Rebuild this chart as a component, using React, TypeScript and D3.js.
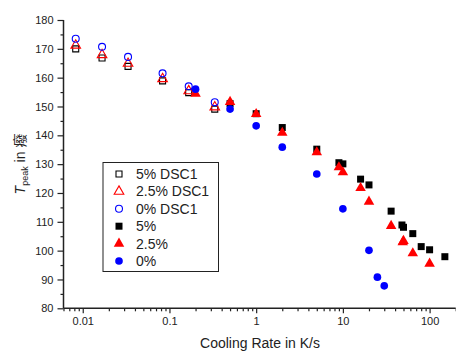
import { useEffect, useRef } from 'react';
import * as d3 from 'd3';

// [cooling rate in K/s, T peak]
const dsc5: [number, number][] = [
  [0.0083, 170.0], [0.0167, 166.8], [0.0333, 163.9], [0.0833, 158.9], [0.1667, 154.8], [0.333, 149.1],
];
const dsc25: [number, number][] = [
  [0.0083, 171.2], [0.0167, 167.9], [0.0333, 164.9], [0.0833, 159.6], [0.1667, 155.4], [0.333, 149.8],
];
const dsc0: [number, number][] = [
  [0.0083, 173.5], [0.0167, 170.7], [0.0333, 167.2], [0.0833, 161.5], [0.1667, 157.0], [0.333, 151.5],
];
const fast5: [number, number][] = [
  [0.5, 151.0], [1, 147.5], [2, 142.7], [5, 135.2], [9, 130.5], [10, 130.1], [16, 124.8], [20, 122.8],
  [36, 113.7], [48, 108.9], [50, 108.1], [64, 105.9], [80, 101.4], [100, 100.3], [150, 97.9],
];
const fast25: [number, number][] = [
  [0.2, 154.4], [0.5, 151.6], [1, 147.4], [2, 140.9], [5, 134.1], [9, 128.9], [10, 127.2], [16, 121.7],
  [20, 117.0], [36, 108.6], [49, 102.9], [50, 103.4], [64, 99.1], [100, 95.5],
];
const fast0: [number, number][] = [
  [0.2, 156.0], [0.5, 149.1], [1, 143.3], [2, 135.9], [5, 126.6], [10, 114.5], [20, 100.1], [25, 90.8], [30, 87.8],
];

const legendLabels = ['5% DSC1', '2.5% DSC1', '0% DSC1', '5%', '2.5%', '0%'];
const xMajor = [0.01, 0.1, 1, 10, 100];
const yMajor = [80, 90, 100, 110, 120, 130, 140, 150, 160, 170, 180];

export default function App() {
  const svgRef = useRef<SVGSVGElement>(null);

  useEffect(() => {
    if (!svgRef.current) return;
    const width = 456;
    const height = 352;
    const font = 'Arial, "Liberation Sans", "Noto Sans CJK SC", sans-serif';
    const axisColor = '#222';

    const svg = d3.select(svgRef.current).attr('width', width).attr('height', height);
    svg.selectAll('*').remove();

    const x = d3.scaleLog().domain([0.006, 200]).range([63.5, 455.7]);
    const y = d3.scaleLinear().domain([80, 180]).range([308.3, 20]);

    const xMinor: number[] = [];
    for (let e = -3; e <= 2; e++) {
      for (let m = 2; m <= 9; m++) {
        const v = m * Math.pow(10, e);
        if (v >= 0.006 && v <= 200) xMinor.push(v);
      }
    }
    const yMinor = d3.range(85, 180, 10);

    // x axis
    const gx = svg.append('g').attr('transform', `translate(0,${y(80)})`);
    gx.append('g')
      .call(d3.axisBottom(x).tickValues(xMinor).tickSize(3).tickFormat(() => ''))
      .call((g) => g.select('.domain').remove());
    gx.append('g')
      .call(d3.axisBottom(x).tickValues(xMajor).tickSize(5).tickPadding(4).tickFormat((d) => String(d)))
      .call((g) => g.select('.domain').remove());
    gx.append('line')
      .attr('x1', x(0.006))
      .attr('x2', x(200))
      .attr('stroke', axisColor)
      .attr('stroke-width', 1.5);

    // y axis
    const gy = svg.append('g').attr('transform', `translate(${x(0.006)},0)`);
    gy.append('g')
      .call(d3.axisLeft(y).tickValues(yMinor).tickSize(3).tickFormat(() => ''))
      .call((g) => g.select('.domain').remove());
    gy.append('g')
      .call(d3.axisLeft(y).tickValues(yMajor).tickSize(6).tickPadding(4).tickFormat((d) => String(d)))
      .call((g) => g.select('.domain').remove());
    gy.append('line')
      .attr('y1', y(80))
      .attr('y2', y(180))
      .attr('stroke', axisColor)
      .attr('stroke-width', 1.5);

    svg.selectAll('.tick line').attr('stroke', axisColor).attr('stroke-width', 1.2);
    svg.selectAll('.tick text')
      .attr('fill', '#222')
      .style('font-family', font)
      .style('font-size', '11px');

    // axis titles
    svg.append('text')
      .attr('x', 260)
      .attr('y', 348)
      .attr('text-anchor', 'middle')
      .attr('fill', '#222')
      .style('font-family', font)
      .style('font-size', '14px')
      .text('Cooling Rate in K/s');

    const yt = svg.append('text')
      .attr('transform', 'translate(25,164) rotate(-90)')
      .attr('text-anchor', 'middle')
      .attr('fill', '#222')
      .style('font-family', font)
      .style('font-size', '14px');
    yt.append('tspan').style('font-style', 'italic').text('T');
    yt.append('tspan').attr('dy', 3).style('font-size', '9px').text('peak');
    yt.append('tspan').attr('dy', -3).text(' in 癈');

    // markers
    const series = [
      { data: dsc5, shape: d3.symbolSquare, size: 36, color: '#000', filled: false },
      { data: dsc25, shape: d3.symbolTriangle, size: 40, color: '#ff0000', filled: false },
      { data: dsc0, shape: d3.symbolCircle, size: 38, color: '#0000ff', filled: false },
      { data: fast5, shape: d3.symbolSquare, size: 49, color: '#000', filled: true },
      { data: fast25, shape: d3.symbolTriangle, size: 48, color: '#ff0000', filled: true },
      { data: fast0, shape: d3.symbolCircle, size: 46, color: '#0000ff', filled: true },
    ];

    series.forEach((s) => {
      const sym = d3.symbol().type(s.shape).size(s.size);
      svg.append('g')
        .selectAll('path')
        .data(s.data)
        .join('path')
        .attr('transform', (d) => `translate(${x(d[0])},${y(d[1])})`)
        .attr('d', sym() as string)
        .attr('fill', s.filled ? s.color : 'none')
        .attr('stroke', s.filled ? 'none' : s.color)
        .attr('stroke-width', 1.1);
    });

    // legend
    const legend = svg.append('g').attr('transform', 'translate(103,162.5)');
    legend.append('rect')
      .attr('width', 115.5)
      .attr('height', 109)
      .attr('fill', '#fff')
      .attr('stroke', '#222')
      .attr('stroke-width', 1);

    series.forEach((s, i) => {
      const ry = 11.5 + i * 17.4;
      legend.append('path')
        .attr('transform', `translate(16,${ry})`)
        .attr('d', d3.symbol().type(s.shape).size(s.size)() as string)
        .attr('fill', s.filled ? s.color : 'none')
        .attr('stroke', s.filled ? 'none' : s.color)
        .attr('stroke-width', 1.1);
      legend.append('text')
        .attr('x', 33)
        .attr('y', ry + 5)
        .attr('fill', '#222')
        .style('font-family', font)
        .style('font-size', '14px')
        .text(legendLabels[i]);
    });
  }, []);

  return <svg ref={svgRef} style={{ position: 'absolute', left: 0, top: 0 }}></svg>;
}
